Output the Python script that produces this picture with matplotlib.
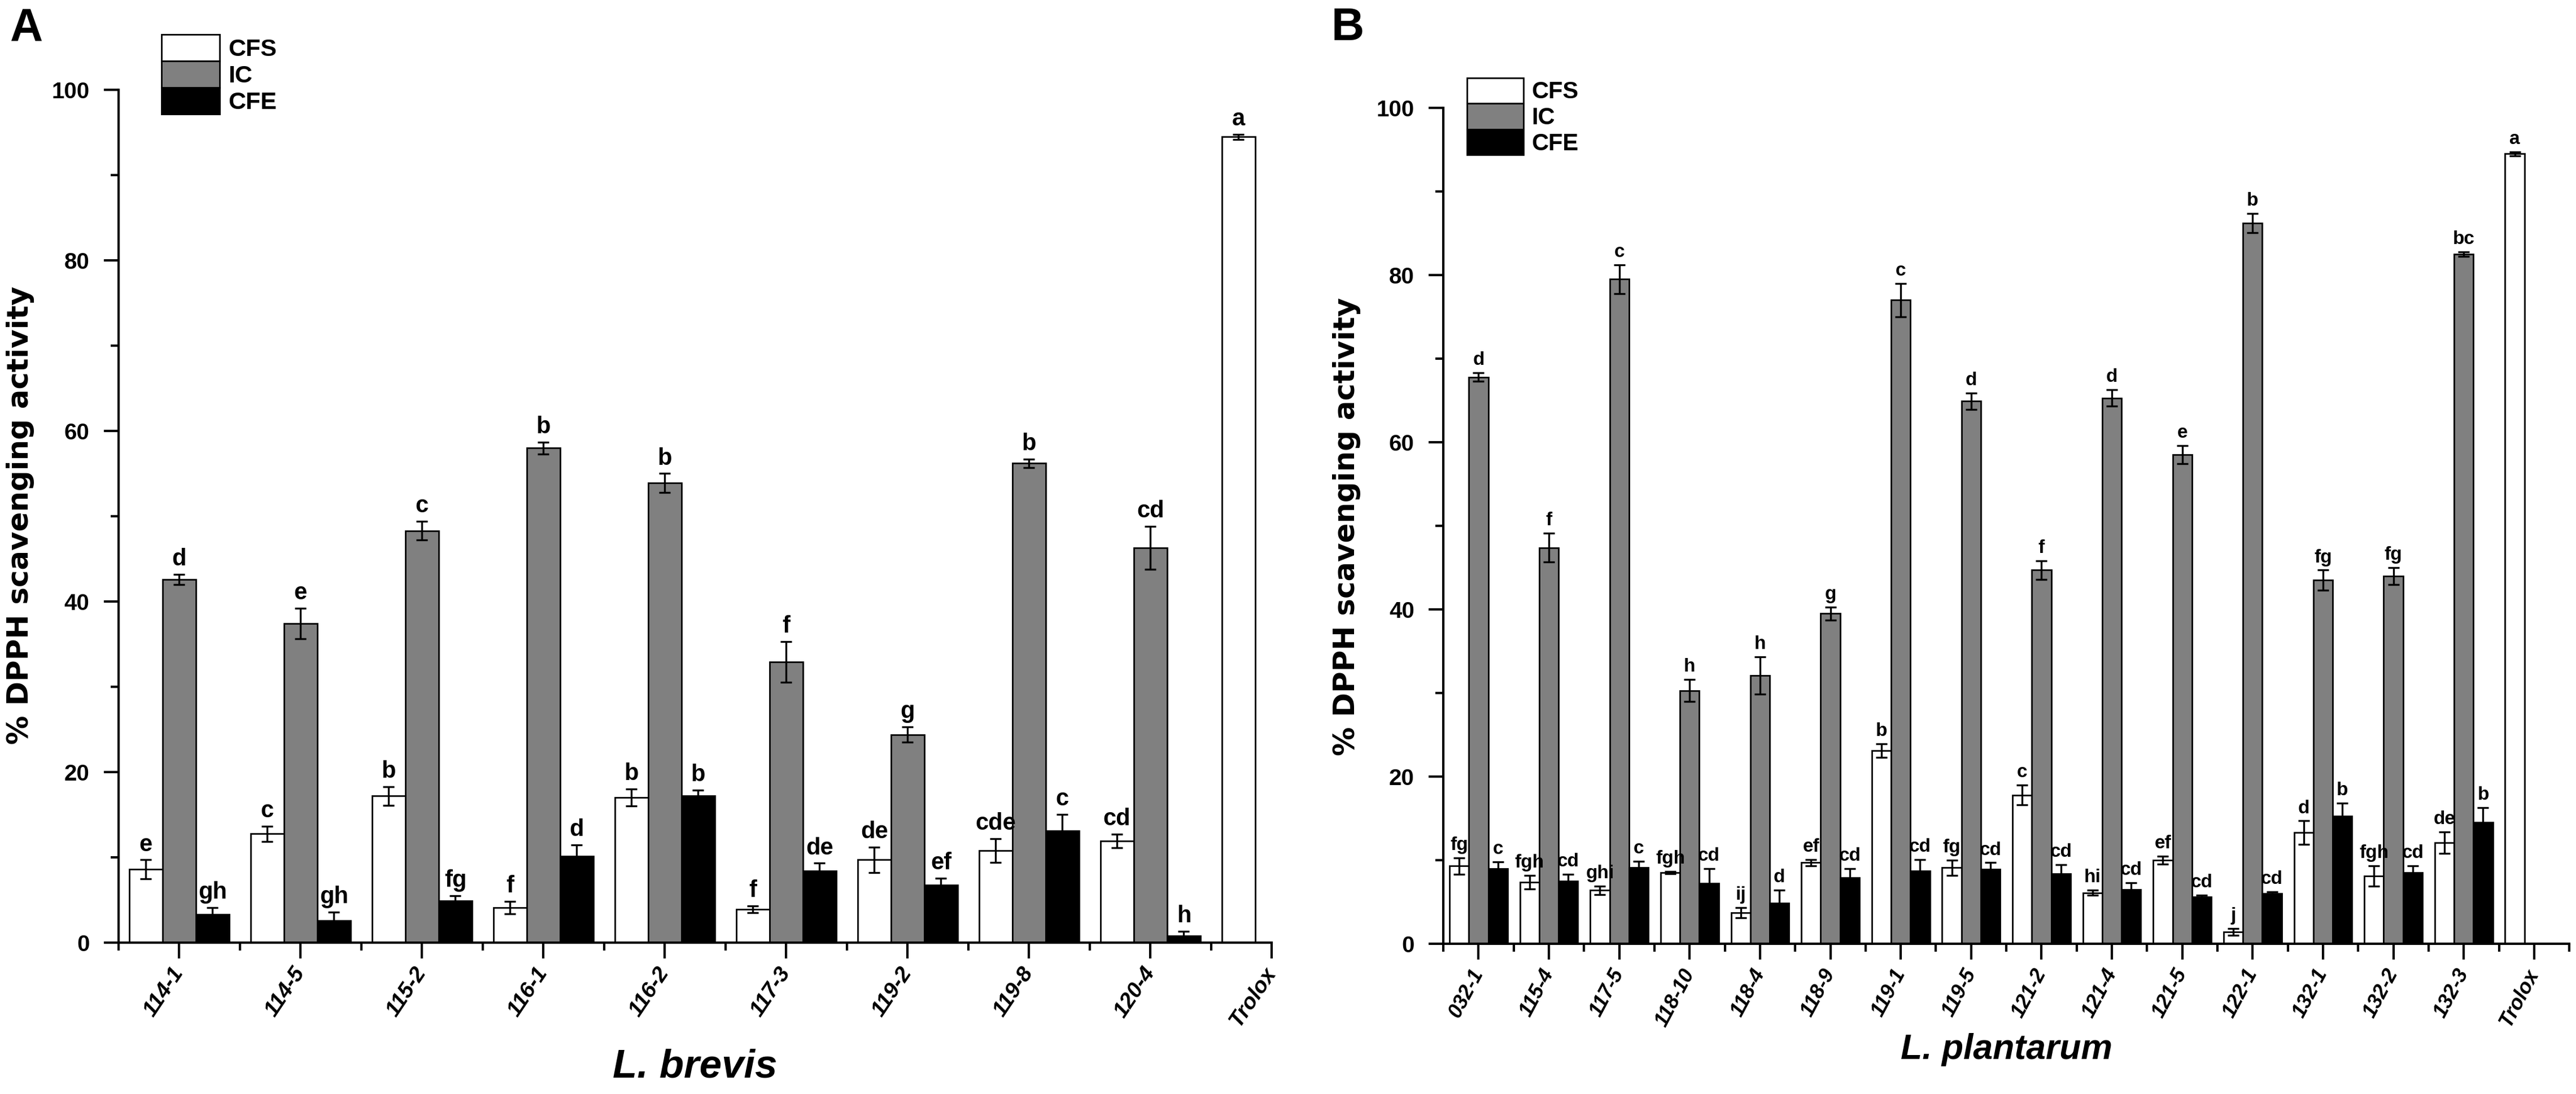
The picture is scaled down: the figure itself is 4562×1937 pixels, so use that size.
import numpy as np
import matplotlib
matplotlib.use("Agg")
import matplotlib.pyplot as plt
from matplotlib.ticker import FixedLocator

# ---- panel A: L. brevis ----
brevis_strains = ["114-1", "114-5", "115-2", "116-1", "116-2", "117-3", "119-2", "119-8", "120-4"]
brevis_cfs = [8.6, 12.75, 17.2, 4.1, 17.0, 3.9, 9.7, 10.8, 11.9]
brevis_cfs_err = [1.1, 0.9, 1.1, 0.75, 1.0, 0.4, 1.5, 1.4, 0.8]
brevis_cfs_let = ["e", "c", "b", "f", "b", "f", "de", "cde", "cd"]
brevis_ic = [42.6, 37.4, 48.3, 58.0, 53.9, 32.9, 24.4, 56.2, 46.3]
brevis_ic_err = [0.6, 1.8, 1.1, 0.7, 1.1, 2.4, 0.9, 0.5, 2.5]
brevis_ic_let = ["d", "e", "c", "b", "b", "f", "g", "b", "cd"]
brevis_cfe = [3.3, 2.55, 4.9, 10.15, 17.2, 8.4, 6.75, 13.1, 0.8]
brevis_cfe_err = [0.8, 1.0, 0.6, 1.3, 0.7, 0.9, 0.8, 1.9, 0.5]
brevis_cfe_let = ["gh", "gh", "fg", "d", "b", "de", "ef", "c", "h"]
brevis_trolox = 94.5
brevis_trolox_err = 0.3

# ---- panel B: L. plantarum ----
plant_strains = ["032-1", "115-4", "117-5", "118-10", "118-4", "118-9", "119-1", "119-5",
                 "121-2", "121-4", "121-5", "122-1", "132-1", "132-2", "132-3"]
plant_cfs = [9.3, 7.35, 6.4, 8.5, 3.7, 9.7, 23.1, 9.1, 17.8, 6.1, 10.0, 1.45, 13.3, 8.1, 12.1]
plant_cfs_err = [1.0, 0.8, 0.5, 0.15, 0.6, 0.4, 0.8, 0.9, 1.2, 0.3, 0.5, 0.4, 1.4, 1.2, 1.3]
plant_cfs_let = ["fg", "fgh", "ghi", "fgh", "ij", "ef", "b", "fg", "c", "hi", "ef", "j", "d", "fgh", "de"]
plant_ic = [67.8, 47.4, 79.5, 30.3, 32.1, 39.5, 77.0, 64.9, 44.7, 65.3, 58.5, 86.2, 43.5, 44.0, 82.5]
plant_ic_err = [0.5, 1.7, 1.7, 1.3, 2.2, 0.8, 2.0, 1.0, 1.1, 1.0, 1.1, 1.15, 1.2, 1.0, 0.3]
plant_ic_let = ["d", "f", "c", "h", "h", "g", "c", "d", "f", "d", "e", "b", "fg", "fg", "bc"]
plant_cfe = [9.0, 7.5, 9.1, 7.2, 4.9, 7.9, 8.75, 8.9, 8.4, 6.5, 5.6, 6.0, 15.3, 8.5, 14.5]
plant_cfe_err = [0.8, 0.8, 0.8, 1.8, 1.5, 1.1, 1.3, 0.8, 1.05, 0.8, 0.2, 0.2, 1.5, 0.8, 1.8]
plant_cfe_let = ["c", "cd", "c", "cd", "d", "cd", "cd", "cd", "cd", "cd", "cd", "cd", "b", "cd", "b"]
plant_trolox = 94.5
plant_trolox_err = 0.25

series_names = ["CFS", "IC", "CFE"]
series_colors = ["white", "#808080", "black"]

plt.rcParams["font.family"] = ["Liberation Sans", "DejaVu Sans"]
plt.rcParams["font.weight"] = "bold"

fig = plt.figure(figsize=(45.62, 19.37), dpi=100)
axA = fig.add_axes([0.0460, 0.1384, 0.4477, 0.7795])
axB = fig.add_axes([0.5603, 0.1373, 0.4371, 0.7641])


def panel(ax, strains, vals, errs, lets, trolox, trolox_err, letsize, rot, ticksize, xmax,
          xlabel, xlabel_size, xlabel_pos, ylabel_pos, legend_pos, legend_size):
    n = len(strains)
    x = np.arange(n)
    w = 0.275
    offs = [-w, 0, w]
    ekw = dict(ecolor="black", elinewidth=2.4, capsize=7.5, capthick=2.4)
    for i in range(3):
        ax.bar(x + offs[i], vals[i], w, yerr=errs[i], color=series_colors[i],
               edgecolor="black", linewidth=2.0, label=series_names[i], error_kw=ekw, zorder=2)
        for xi, v, e, t in zip(x + offs[i], vals[i], errs[i], lets[i]):
            ax.annotate(t, (xi, v + e), xytext=(0, 5), textcoords="offset points",
                        ha="center", va="bottom", fontsize=letsize, fontweight="bold")
    # Trolox reference: single bar in the CFS slot
    ax.bar(n - w, trolox, w, yerr=trolox_err, color="white", edgecolor="black",
           linewidth=2.0, error_kw=ekw, zorder=2)
    ax.annotate("a", (n - w, trolox + trolox_err), xytext=(0, 5), textcoords="offset points",
                ha="center", va="bottom", fontsize=letsize, fontweight="bold")

    ax.set_xlim(-0.5, xmax)
    ax.set_ylim(0, 100)
    ax.set_xticks(np.arange(n + 1))
    ax.set_xticklabels(strains + ["Trolox"], rotation=rot, ha="right", va="center",
                       rotation_mode="anchor", fontsize=ticksize, fontstyle="italic",
                       fontweight="bold")
    ax.xaxis.set_minor_locator(FixedLocator(np.arange(-0.5, xmax + 0.01, 1.0)))
    ax.set_yticks(np.arange(0, 101, 20))
    ax.yaxis.set_minor_locator(FixedLocator(np.arange(10, 100, 20)))
    ax.tick_params(axis="y", which="major", length=19, width=3, labelsize=29, pad=18)
    ax.tick_params(axis="y", which="minor", length=10, width=3)
    ax.tick_params(axis="x", which="major", length=20, width=3, pad=14)
    ax.tick_params(axis="x", which="minor", length=10, width=3)
    for s in ["top", "right"]:
        ax.spines[s].set_visible(False)
    for s in ["left", "bottom"]:
        ax.spines[s].set_linewidth(3)

    ax.set_ylabel("% DPPH scavenging activity", family="DejaVu Sans", fontweight="bold",
                  fontsize=37)
    ax.yaxis.set_label_coords(*ylabel_pos)
    ax.set_xlabel(xlabel, family="Liberation Sans", fontweight="bold", fontstyle="italic",
                  fontsize=xlabel_size)
    ax.xaxis.set_label_coords(*xlabel_pos)

    ax.legend(loc="upper left", bbox_to_anchor=legend_pos, frameon=False,
              fontsize=legend_size, labelspacing=0.0, handlelength=2.4, handleheight=1.3,
              handletextpad=0.35, borderpad=0.0, borderaxespad=0.0)


# panel A axis stops at the Trolox tick
panel(axA, brevis_strains,
      [brevis_cfs, brevis_ic, brevis_cfe],
      [brevis_cfs_err, brevis_ic_err, brevis_cfe_err],
      [brevis_cfs_let, brevis_ic_let, brevis_cfe_let],
      brevis_trolox, brevis_trolox_err, 30, 56, 28, 9.0,
      "L. brevis", 51, (0.5, -0.124), (-0.0727, 0.501), (0.0372, 1.065), 31)

panel(axB, plant_strains,
      [plant_cfs, plant_ic, plant_cfe],
      [plant_cfs_err, plant_ic_err, plant_cfe_err],
      [plant_cfs_let, plant_ic_let, plant_cfe_let],
      plant_trolox, plant_trolox_err, 24, 62, 26, 15.5,
      "L. plantarum", 45, (0.50, -0.107), (-0.0732, 0.499), (0.021, 1.036), 30)

fig.text(0.0039, 0.9633, "A", fontsize=58, fontweight="bold", family="Liberation Sans",
         ha="left", va="baseline")
fig.text(0.5167, 0.9633, "B", fontsize=58, fontweight="bold", family="Liberation Sans",
         ha="left", va="baseline")

fig.savefig("out.png", dpi=100, facecolor="white")
